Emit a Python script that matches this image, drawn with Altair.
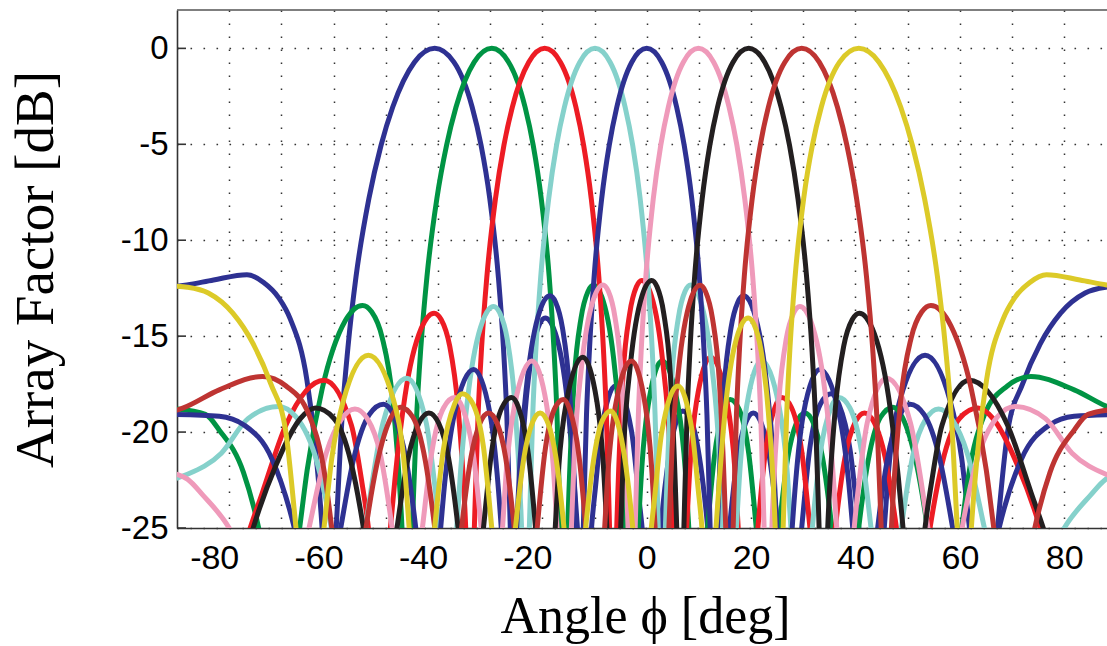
import altair as alt
import pandas as pd

# ---- data: (angle deg, array factor dB); -32/-40 marks nulls below the axis ----
B1 = [(-90,-12.4),(-88.1,-12.33),(-83.0,-12.07),(-76.6,-11.8),(-73.4,-12.2),(-70.5,-13.0),(-68.3,-14.1),(-65.1,-17.3),(-63.6,-20.5),(-62.2,-25),(-60.85,-32),
      (-59.49,-25),(-58.34,-19.1),(-57.25,-15.6),(-55.70,-11.9),(-53.23,-7.83),(-50.90,-5.05),(-48.68,-3.07),(-44.51,-0.72),(-40.62,0),(-36.94,-0.72),(-33.44,-3.07),(-31.74,-5.05),(-30.07,-7.83),(-28.43,-11.9),(-27.45,-15.6),(-26.81,-19.1),(-26.14,-25),(-25.39,-32),
      (-24.62,-25),(-23.30,-18.95),(-21.91,-15.75),(-20.55,-14.38),(-19.45,-14.05),(-17.52,-14.84),(-15.20,-18.42),(-13.88,-22.65),(-13.28,-25),(-11.92,-32),
      (-10.58,-25),(-9.85,-22.96),(-8.69,-19.94),(-5.97,-17.6),(-2.92,-19.94),(-1.49,-23.46),(-0.88,-25),(0.89,-32),
      (2.68,-25),(3.96,-21.85),(5.68,-19.43),(6.89,-18.9),(8.57,-19.43),(10.31,-21.7),(11.70,-25),(13.76,-32),
      (15.85,-25),(17.40,-21.32),(18.91,-19.55),(20.43,-19.0),(21.96,-19.55),(23.52,-21.32),(25.15,-25),(27.39,-32),
      (29.69,-25),(31.27,-20.8),(33.30,-18.53),(35.31,-18.0),(36.80,-18.53),(38.98,-20.95),(40.64,-25),(43.01,-32),
      (45.51,-25),(46.39,-21.86),(48.51,-18.34),(53.33,-16.0),(58.1,-18.34),(60.34,-21.36),(61.84,-25),(64.77,-32),
      (67.2,-25),(69.2,-19.9),(72.0,-17.5),(75.4,-15.4),(79.3,-13.8),(84,-12.75),(88,-12.45),(90,-12.4)]

B2 = [(-90,-18.8),(-84.56,-19.08),(-81.89,-19.9),(-77.27,-22.1),(-74.35,-25),(-70.04,-32),
      (-66.50,-25),(-65.07,-22.0),(-62.20,-17.77),(-57.74,-14.19),(-54.45,-13.4),(-52.71,-13.73),(-50.66,-15.1),(-48.68,-18.3),(-46.89,-25),(-45.87,-32),
      (-44.92,-25),(-44.07,-19.1),(-43.28,-15.6),(-42.11,-11.9),(-40.21,-7.83),(-38.35,-5.05),(-36.55,-3.07),(-33.06,-0.72),(-29.70,0),(-26.46,-0.72),(-23.30,-3.07),(-21.75,-5.05),(-20.21,-7.83),(-18.69,-11.9),(-17.79,-15.6),(-17.19,-19.1),(-16.56,-25),(-15.86,-32),
      (-15.14,-25),(-13.89,-17.25),(-12.58,-14.05),(-11.27,-12.68),(-10.23,-12.35),(-8.37,-13.14),(-6.12,-16.72),(-4.84,-20.95),(-4.25,-25),(-2.93,-32),
      (-1.61,-25),(-0.89,-21.66),(0.26,-18.64),(2.95,-16.3),(6.0,-18.64),(7.44,-22.16),(8.06,-25),(9.85,-32),
      (11.67,-25),(12.98,-21.25),(14.75,-18.83),(15.99,-18.3),(17.73,-18.83),(19.54,-21.1),(20.99,-25),(23.16,-32),
      (25.38,-25),(27.04,-21.32),(28.65,-19.55),(30.30,-19.0),(31.97,-19.55),(33.68,-21.32),(35.48,-25),(37.99,-32),
      (40.61,-25),(42.42,-21.5),(44.79,-19.23),(47.19,-18.7),(48.99,-19.23),(51.68,-21.65),(53.79,-25),(56.90,-32),
      (60.34,-25),(61.59,-22.4),(64.7,-19.1),(69.1,-17.6),(73.6,-17.1),(81.9,-17.8),(88.9,-18.75),(90,-18.85)]

B3 = [(-90,-40),(-75.98,-25),(-73.65,-23.16),(-69.14,-19.64),(-61.83,-17.3),(-56.58,-19.64),(-54.55,-22.66),(-53.32,-25),(-51.16,-32),
      (-49.11,-25),(-48.22,-22.4),(-46.34,-18.17),(-43.20,-14.59),(-40.73,-13.8),(-39.39,-14.13),(-37.76,-15.5),(-36.16,-18.7),(-34.68,-25),(-33.83,-32),
      (-33.03,-25),(-32.31,-19.1),(-31.64,-15.6),(-30.63,-11.9),(-28.98,-7.83),(-27.36,-5.05),(-25.76,-3.07),(-22.61,-0.72),(-19.54,0),(-16.53,-0.72),(-13.56,-3.07),(-12.09,-5.05),(-10.63,-7.83),(-9.18,-11.9),(-8.31,-15.6),(-7.73,-19.1),(-7.12,-25),(-6.45,-32),
      (-5.75,-25),(-4.53,-17.0),(-3.25,-13.8),(-1.98,-12.43),(-0.95,-12.1),(0.89,-12.89),(3.12,-16.47),(4.39,-20.7),(4.99,-25),(6.31,-32),
      (7.64,-25),(8.37,-21.46),(9.53,-18.44),(12.27,-16.1),(15.40,-18.44),(16.89,-21.96),(17.53,-25),(19.40,-32),
      (21.30,-25),(22.68,-21.15),(24.55,-18.73),(25.88,-18.2),(27.75,-18.73),(29.70,-21.0),(31.28,-25),(33.66,-32),
      (36.13,-25),(37.99,-21.32),(39.83,-19.55),(41.73,-19.0),(43.68,-19.55),(45.69,-21.32),(47.85,-25),(50.94,-32),
      (54.28,-25),(56.68,-21.55),(59.96,-19.28),(63.47,-18.75),(66.30,-19.28),(71.0,-21.7),(75.4,-25),(87.08,-40),(90,-34)]

B4 = [(-90,-22.4),(-88,-22.2),(-81.5,-21.1),(-76.4,-19.3),(-70.57,-18.67),(-67.23,-19.2),(-63.15,-21.6),(-60.44,-25),(-57.0,-32),
      (-53.88,-25),(-52.85,-23.06),(-50.54,-19.54),(-45.97,-17.2),(-42.23,-19.54),(-40.70,-22.56),(-39.75,-25),(-38.06,-32),
      (-36.40,-25),(-35.67,-22.05),(-34.12,-17.82),(-31.47,-14.24),(-29.34,-13.45),(-28.17,-13.78),(-26.73,-15.15),(-25.31,-18.35),(-23.98,-25),(-23.22,-32),
      (-22.49,-25),(-21.84,-19.1),(-21.22,-15.6),(-20.31,-11.9),(-18.78,-7.83),(-17.28,-5.05),(-15.78,-3.07),(-12.83,-0.72),(-9.91,0),(-7.01,-0.72),(-4.13,-3.07),(-2.69,-5.05),(-1.26,-7.83),(0.17,-11.9),(1.03,-15.6),(1.60,-19.1),(2.21,-25),(2.88,-32),
      (3.58,-25),(4.79,-17.23),(6.07,-14.03),(7.35,-12.66),(8.40,-12.33),(10.25,-13.12),(12.53,-16.7),(13.83,-20.93),(14.44,-25),(15.81,-32),
      (17.18,-25),(17.94,-21.66),(19.15,-18.64),(22.02,-16.3),(25.34,-18.64),(26.94,-22.16),(27.63,-25),(29.65,-32),
      (31.72,-25),(33.23,-21.15),(35.31,-18.73),(36.80,-18.2),(38.91,-18.73),(41.15,-21.0),(42.98,-25),(45.79,-32),
      (48.78,-25),(51.08,-21.1),(53.42,-19.35),(55.91,-18.8),(58.55,-19.35),(61.41,-21.1),(64.70,-25),(69.89,-32),
      (80,-25),(85,-23.3),(88,-22.45),(90,-22.2)]

B5 = [(-90,-19.08),(-81.89,-19.17),(-77.16,-19.63),(-71.81,-21.4),(-67.52,-25),(-62.76,-32),
      (-58.63,-25),(-56.11,-21.35),(-53.13,-19.08),(-50.45,-18.55),(-48.59,-19.08),(-46.06,-21.5),(-44.25,-25),(-41.81,-32),
      (-39.48,-25),(-38.69,-22.6),(-36.87,-19.08),(-33.16,-16.74),(-30.0,-19.08),(-28.69,-22.1),(-27.87,-25),(-26.39,-32),
      (-24.92,-25),(-24.28,-21.5),(-22.89,-17.27),(-20.49,-13.69),(-18.54,-12.9),(-17.46,-13.23),(-16.13,-14.6),(-14.80,-17.8),(-13.56,-25),(-12.84,-32),
      (-12.15,-25),(-11.54,-19.1),(-10.95,-15.6),(-10.08,-11.9),(-8.63,-7.83),(-7.18,-5.05),(-5.74,-3.07),(-2.87,-0.72),(0,0),
      (2.87,-0.72),(5.74,-3.07),(7.18,-5.05),(8.63,-7.83),(10.08,-11.9),(10.95,-15.6),(11.54,-19.1),(12.15,-25),(12.84,-32),
      (13.56,-25),(14.80,-17.8),(16.13,-14.6),(17.46,-13.23),(18.54,-12.9),(20.49,-13.69),(22.89,-17.27),(24.28,-21.5),(24.92,-25),(26.39,-32),
      (27.87,-25),(28.69,-22.1),(30.0,-19.08),(33.16,-16.74),(36.87,-19.08),(38.69,-22.6),(39.48,-25),(41.81,-32),
      (44.25,-25),(46.06,-21.5),(48.59,-19.08),(50.45,-18.55),(53.13,-19.08),(56.11,-21.35),(58.63,-25),(62.76,-32),
      (67.52,-25),(71.81,-21.4),(77.16,-19.63),(81.89,-19.17),(90,-19.08)]

B6 = [(-90,-22.2),(-88,-22.45),(-85,-23.3),(-80,-25),(-69.89,-32),
      (-64.70,-25),(-61.41,-21.1),(-58.55,-19.35),(-55.91,-18.8),(-53.42,-19.35),(-51.08,-21.1),(-48.78,-25),(-45.79,-32),
      (-42.98,-25),(-41.15,-21.0),(-38.91,-18.73),(-36.80,-18.2),(-35.31,-18.73),(-33.23,-21.15),(-31.72,-25),(-29.65,-32),
      (-27.63,-25),(-26.94,-22.16),(-25.34,-18.64),(-22.02,-16.3),(-19.15,-18.64),(-17.94,-21.66),(-17.18,-25),(-15.81,-32),
      (-14.44,-25),(-13.83,-20.93),(-12.53,-16.7),(-10.25,-13.12),(-8.40,-12.33),(-7.35,-12.66),(-6.07,-14.03),(-4.79,-17.23),(-3.58,-25),(-2.88,-32),
      (-2.21,-25),(-1.60,-19.1),(-1.03,-15.6),(-0.17,-11.9),(1.26,-7.83),(2.69,-5.05),(4.13,-3.07),(7.01,-0.72),(9.91,0),(12.83,-0.72),(15.78,-3.07),(17.28,-5.05),(18.78,-7.83),(20.31,-11.9),(21.22,-15.6),(21.84,-19.1),(22.49,-25),(23.22,-32),
      (23.98,-25),(25.31,-18.35),(26.73,-15.15),(28.17,-13.78),(29.34,-13.45),(31.47,-14.24),(34.12,-17.82),(35.67,-22.05),(36.40,-25),(38.06,-32),
      (39.75,-25),(40.70,-22.56),(42.23,-19.54),(45.97,-17.2),(50.54,-19.54),(52.85,-23.06),(53.88,-25),(57.0,-32),
      (60.44,-25),(63.15,-21.6),(67.23,-19.2),(70.57,-18.67),(76.4,-19.3),(81.5,-21.1),(88,-22.2),(90,-22.4)]

B7 = [(-90,-34),(-87.08,-40),(-75.4,-25),(-71.0,-21.7),(-66.30,-19.28),(-63.47,-18.75),(-59.96,-19.28),(-56.68,-21.55),(-54.28,-25),(-50.94,-32),
      (-47.85,-25),(-45.69,-21.32),(-43.68,-19.55),(-41.73,-19.0),(-39.83,-19.55),(-37.99,-21.32),(-36.13,-25),(-33.66,-32),
      (-31.28,-25),(-29.70,-21.0),(-27.75,-18.73),(-25.88,-18.2),(-24.55,-18.73),(-22.68,-21.15),(-21.30,-25),(-19.40,-32),
      (-17.53,-25),(-16.89,-21.96),(-15.40,-18.44),(-12.27,-16.1),(-9.53,-18.44),(-8.37,-21.46),(-7.64,-25),(-6.31,-32),
      (-4.99,-25),(-4.39,-20.7),(-3.12,-16.47),(-0.89,-12.89),(0.95,-12.1),(1.98,-12.43),(3.25,-13.8),(4.53,-17.0),(5.75,-25),(6.45,-32),
      (7.12,-25),(7.73,-19.1),(8.31,-15.6),(9.18,-11.9),(10.63,-7.83),(12.09,-5.05),(13.56,-3.07),(16.53,-0.72),(19.54,0),(22.61,-0.72),(25.76,-3.07),(27.36,-5.05),(28.98,-7.83),(30.63,-11.9),(31.64,-15.6),(32.31,-19.1),(33.03,-25),(33.83,-32),
      (34.68,-25),(36.16,-18.7),(37.76,-15.5),(39.39,-14.13),(40.73,-13.8),(43.20,-14.59),(46.34,-18.17),(48.22,-22.4),(49.11,-25),(51.16,-32),
      (53.32,-25),(54.55,-22.66),(56.58,-19.64),(61.83,-17.3),(69.14,-19.64),(73.65,-23.16),(75.98,-25),(90,-40)]

B8 = [(-90,-18.85),(-88.9,-18.75),(-81.9,-17.8),(-73.6,-17.1),(-69.1,-17.6),(-64.7,-19.1),(-61.59,-22.4),(-60.34,-25),(-56.90,-32),
      (-53.79,-25),(-51.68,-21.65),(-48.99,-19.23),(-47.19,-18.7),(-44.79,-19.23),(-42.42,-21.5),(-40.61,-25),(-37.99,-32),
      (-35.48,-25),(-33.68,-21.32),(-31.97,-19.55),(-30.30,-19.0),(-28.65,-19.55),(-27.04,-21.32),(-25.38,-25),(-23.16,-32),
      (-20.99,-25),(-19.54,-21.1),(-17.73,-18.83),(-15.99,-18.3),(-14.75,-18.83),(-12.98,-21.25),(-11.67,-25),(-9.85,-32),
      (-8.06,-25),(-7.44,-22.16),(-6.0,-18.64),(-2.95,-16.3),(-0.26,-18.64),(0.89,-21.66),(1.61,-25),(2.93,-32),
      (4.25,-25),(4.84,-20.95),(6.12,-16.72),(8.37,-13.14),(10.23,-12.35),(11.27,-12.68),(12.58,-14.05),(13.89,-17.25),(15.14,-25),(15.86,-32),
      (16.56,-25),(17.19,-19.1),(17.79,-15.6),(18.69,-11.9),(20.21,-7.83),(21.75,-5.05),(23.30,-3.07),(26.46,-0.72),(29.70,0),(33.06,-0.72),(36.55,-3.07),(38.35,-5.05),(40.21,-7.83),(42.11,-11.9),(43.28,-15.6),(44.07,-19.1),(44.92,-25),(45.87,-32),
      (46.89,-25),(48.68,-18.3),(50.66,-15.1),(52.71,-13.73),(54.45,-13.4),(57.74,-14.19),(62.20,-17.77),(65.07,-22.0),(66.50,-25),(70.04,-32),
      (74.35,-25),(77.27,-22.1),(81.89,-19.9),(84.56,-19.08),(90,-18.8)]

B9 = [(-90,-12.4),(-88,-12.45),(-84,-12.75),(-79.3,-13.8),(-75.4,-15.4),(-72.0,-17.5),(-69.2,-19.9),(-67.2,-25),(-64.77,-32),
      (-61.84,-25),(-60.34,-21.36),(-58.1,-18.34),(-53.33,-16.0),(-48.51,-18.34),(-46.39,-21.86),(-45.51,-25),(-43.01,-32),
      (-40.64,-25),(-38.98,-20.95),(-36.80,-18.53),(-35.31,-18.0),(-33.30,-18.53),(-31.27,-20.8),(-29.69,-25),(-27.39,-32),
      (-25.15,-25),(-23.52,-21.32),(-21.96,-19.55),(-20.43,-19.0),(-18.91,-19.55),(-17.40,-21.32),(-15.85,-25),(-13.76,-32),
      (-11.70,-25),(-10.31,-21.7),(-8.57,-19.43),(-6.89,-18.9),(-5.68,-19.43),(-3.96,-21.85),(-2.68,-25),(-0.89,-32),
      (0.88,-25),(1.49,-23.46),(2.92,-19.94),(5.97,-17.6),(8.69,-19.94),(9.85,-22.96),(10.58,-25),(11.92,-32),
      (13.28,-25),(13.88,-22.65),(15.20,-18.42),(17.52,-14.84),(19.45,-14.05),(20.55,-14.38),(21.91,-15.75),(23.30,-18.95),(24.62,-25),(25.39,-32),
      (26.14,-25),(26.81,-19.1),(27.45,-15.6),(28.43,-11.9),(30.07,-7.83),(31.74,-5.05),(33.44,-3.07),(36.94,-0.72),(40.62,0),(44.51,-0.72),(48.68,-3.07),(50.90,-5.05),(53.23,-7.83),(55.70,-11.9),(57.25,-15.6),(58.34,-19.1),(59.49,-25),(60.85,-32),
      (62.2,-25),(63.6,-20.5),(65.1,-17.3),(68.3,-14.1),(70.5,-13.0),(73.4,-12.2),(76.6,-11.8),(83.0,-12.07),(88.1,-12.33),(90,-12.4)]

BEAMS = [B1, B2, B3, B4, B5, B6, B7, B8, B9]
COLORS = ["#2E3192", "#009444", "#ED1C24", "#85D1CB", "#2E3192",
          "#EF9ABA", "#231F20", "#BE3432", "#DCCA28"]

X_TICKS = [-80, -70, -60, -50, -40, -30, -20, -10, 0, 10, 20, 30, 40, 50, 60, 70, 80]
Y_TICKS = [-25, -20, -15, -10, -5, 0]
X_DOMAIN = [-90, 88.19]
Y_DOMAIN = [-25, 2]

NBSP = "\u00a0"

x_enc = alt.X(
    "x:Q",
    scale=alt.Scale(domain=X_DOMAIN, nice=False, zero=False),
    axis=alt.Axis(
        values=X_TICKS,
        labelExpr="datum.value % 20 === 0 ? toString(datum.value) : ''",
        labelOffset={"condition": {"test": "datum.value < 0", "value": -15}, "value": 0},
        title="Angle \u03d5 [deg]",
        grid=True, gridDash=[1.6, 11.4], gridColor="#333333", gridWidth=1.5,
        ticks=False, labelPadding=13, labelFlush=False, labelOverlap=False,
        labelFont="Liberation Sans", labelFontSize=34, labelColor="#000000",
        domainColor="#333333", domainWidth=1.6,
        titleFont="Liberation Serif", titleFontSize=52, titleFontWeight="normal",
        titleColor="#000000", titleX=468, titleY=104, titleBaseline="alphabetic",
        titleAlign="center",
    ),
)

y_enc = alt.Y(
    "y:Q",
    scale=alt.Scale(domain=Y_DOMAIN, nice=False, zero=False),
    axis=alt.Axis(
        values=Y_TICKS,
        labelExpr="datum.value <= -10 ? toString(datum.value) + '" + NBSP + "' : toString(datum.value)",
        title="Array Factor [dB]",
        grid=True, gridDash=[1.6, 11.4], gridColor="#333333", gridWidth=1.5,
        ticks=False, labelPadding=9, labelFlush=False, labelOverlap=False,
        labelFont="Liberation Sans", labelFontSize=33, labelColor="#000000",
        domainColor="#333333", domainWidth=1.6,
        titleFont="Liberation Serif", titleFontSize=55, titleFontWeight="normal",
        titleColor="#000000", titleX=-125, titleY=259, titleAngle=270,
        titleBaseline="alphabetic", titleAlign="center",
    ),
)

layers = []
for pts, col in zip(BEAMS, COLORS):
    df = pd.DataFrame(pts, columns=["x", "y"])
    layers.append(
        alt.Chart(df).mark_line(
            color=col, strokeWidth=5, interpolate="monotone", clip=True,
            strokeCap="round", strokeJoin="round",
        ).encode(x=x_enc, y=y_enc)
    )

# inward ticks on the left axis and the top frame line
tick_df = pd.DataFrame({"y": Y_TICKS})
left_ticks = alt.Chart(tick_df).mark_rule(color="#333333", strokeWidth=1.6).encode(
    y=y_enc, x=alt.value(0), x2=alt.value(9)
)
top_df = pd.DataFrame({"y": [Y_DOMAIN[1]]})
top_line = alt.Chart(top_df).mark_rule(color="#555555", strokeWidth=1.6).encode(y=y_enc)

chart = alt.layer(*layers, left_ticks, top_line).properties(
    width=930, height=518,
    padding={"left": 177, "top": 10, "right": 0, "bottom": 118},
    autosize=alt.AutoSizeParams(type="none"),
).configure(background="white").configure_view(stroke=None)

chart.save("out.html", embed_options={"renderer": "svg", "actions": False})
